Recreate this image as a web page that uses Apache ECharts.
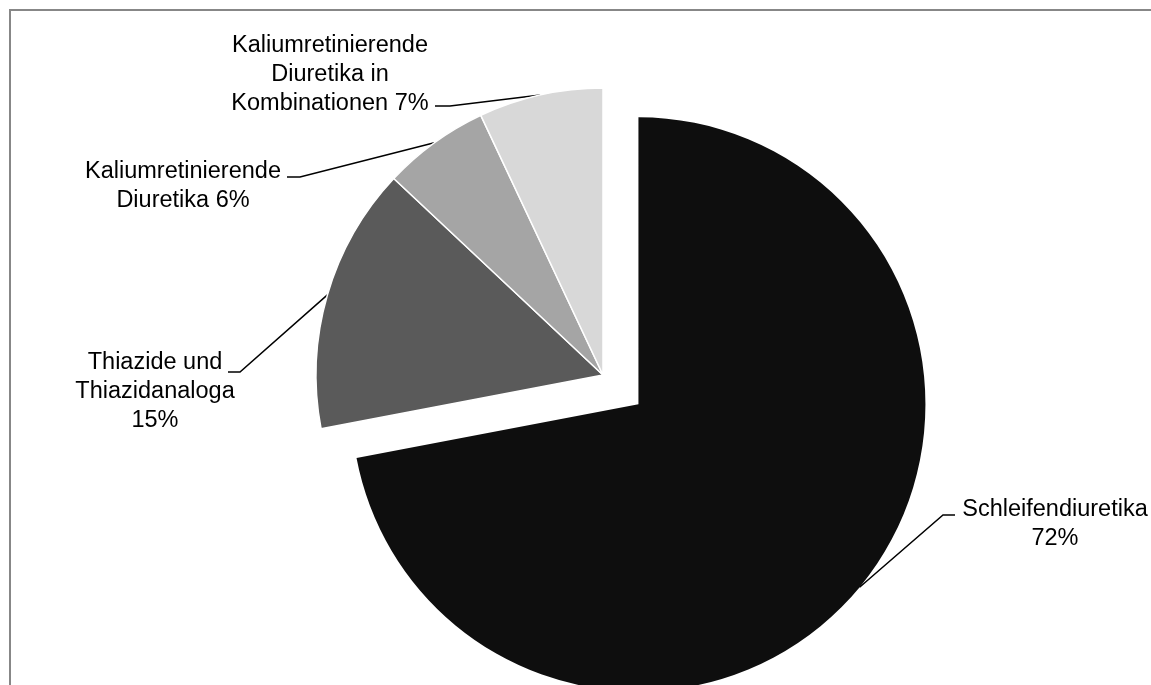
<!DOCTYPE html>
<html>
<head>
<meta charset="utf-8">
<script src="https://cdn.jsdelivr.net/npm/echarts@6/dist/echarts.min.js"></script>
<style>
  html, body { margin: 0; padding: 0; background: #fff; }
  #chart { width: 1151px; height: 685px; }
</style>
</head>
<body>
<div id="chart"></div>
<script>
// Verordnungsanteile der Diuretika-Gruppen (in %)
const categories = [
  'Schleifendiuretika',
  'Thiazide und\nThiazidanaloga',
  'Kaliumretinierende\nDiuretika',
  'Kaliumretinierende\nDiuretika in\nKombinationen'
];
const shares = [72, 15, 6, 7];
const sliceColors = ['#0e0e0e', '#5a5a5a', '#a5a5a5', '#d8d8d8'];

// Index of the slice pulled out of the pie
const EXPLODED = 0;

// Label text: category name followed by its share
function labelText(i) {
  const name = categories[i];
  if (i === 0 || i === 1) return name + '\n' + shares[i] + '%';
  return name + ' ' + shares[i] + '%';
}

// Pie geometry
const CENTER = [603, 375];
const RADIUS = 287;
const EXPLODE_DIST = 46;

// Direction of the pulled-out slice: its mid-angle, measured clockwise from 12 o'clock
const total = shares.reduce((a, b) => a + b, 0);
const before = shares.slice(0, EXPLODED).reduce((a, b) => a + b, 0);
const midAngle = (before + shares[EXPLODED] / 2) / total * 2 * Math.PI;
const explodedCenter = [
  CENTER[0] + Math.sin(midAngle) * EXPLODE_DIST,
  CENTER[1] - Math.cos(midAngle) * EXPLODE_DIST
];

// Where each label block sits and how its leader line bends
const LABEL_LAYOUT = [
  { x: 1055, y: 524, elbow: [943, 515], end: [955, 515] },
  { x: 155, y: 392, elbow: [240, 372], end: [228, 372] },
  { x: 183, y: 186, elbow: [300, 177], end: [287, 177] },
  { x: 330, y: 75, elbow: [450, 106], end: [435, 106] }
];

const labelStyle = {
  show: true,
  position: 'outside',
  fontFamily: '"Liberation Sans", Arial, sans-serif',
  fontSize: 23.5,
  lineHeight: 29,
  color: '#000000',
  align: 'center',
  formatter: p => labelText(p.dataIndex)
};

function layoutLabel(params) {
  const l = LABEL_LAYOUT[params.dataIndex];
  const pts = params.labelLinePoints;
  const start = pts && pts.length ? pts[0] : l.elbow;
  return {
    x: l.x,
    y: l.y,
    align: 'center',
    verticalAlign: 'middle',
    labelLinePoints: [start, l.elbow, l.end]
  };
}

// One pie layer: slices in `showSet` are painted, the rest only keep their angular room
function pieLayer(center, showSet) {
  return {
    type: 'pie',
    center: center,
    radius: RADIUS,
    startAngle: 90,
    clockwise: true,
    avoidLabelOverlap: false,
    silent: true,
    emphasis: { disabled: true },
    label: labelStyle,
    labelLine: {
      show: true,
      length: 20,
      length2: 10,
      lineStyle: { color: '#000000', width: 1.5 }
    },
    labelLayout: layoutLabel,
    data: shares.map((v, i) => {
      const shown = showSet(i);
      return {
        name: categories[i],
        value: v,
        itemStyle: shown
          ? { color: sliceColors[i], borderColor: '#ffffff', borderWidth: i === EXPLODED ? 0 : 1.5 }
          : { color: 'rgba(0,0,0,0)', borderWidth: 0 },
        label: { show: shown },
        labelLine: { show: shown }
      };
    })
  };
}

const chart = echarts.init(document.getElementById('chart'), null, { renderer: 'canvas' });

chart.setOption({
  animation: false,
  backgroundColor: '#ffffff',
  graphic: [{
    type: 'rect',
    silent: true,
    shape: { x: 10, y: 10, width: 1300, height: 900 },
    style: { fill: 'none', stroke: '#878787', lineWidth: 2 }
  }],
  series: [
    pieLayer(CENTER, i => i !== EXPLODED),
    pieLayer(explodedCenter, i => i === EXPLODED)
  ]
});
</script>
</body>
</html>
